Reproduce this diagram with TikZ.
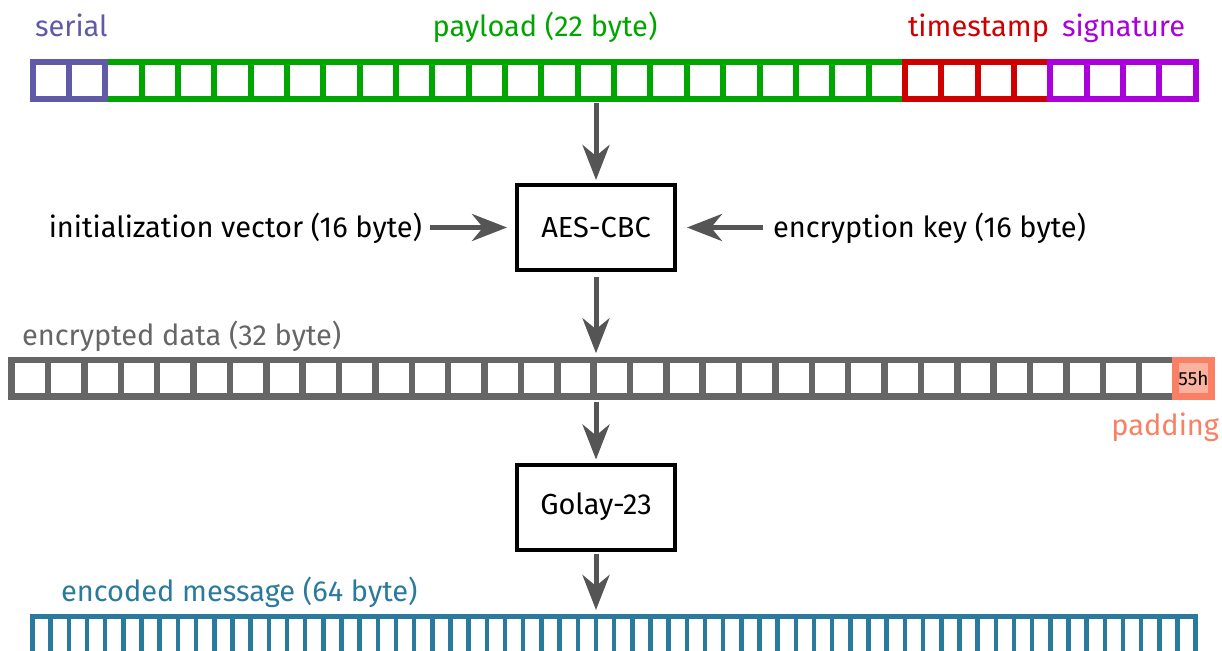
\documentclass[tikz,border=0pt]{standalone}
\usepackage{fontspec}
\setmainfont{Fira Sans}
\usetikzlibrary{arrows.meta}

\definecolor{serialc}{RGB}{96,90,168}
\definecolor{payloadc}{RGB}{0,166,0}
\definecolor{stampc}{RGB}{208,0,0}
\definecolor{signc}{RGB}{170,0,220}
\definecolor{cipherc}{RGB}{102,102,102}
\definecolor{padc}{RGB}{249,128,100}
\definecolor{padfill}{RGB}{249,178,160}
\definecolor{codedc}{RGB}{42,122,158}
\definecolor{arrowc}{RGB}{85,85,85}

% a row of byte cells: name, colour, left x, cells, centre y, pitch, line width
\newcommand{\bytebar}[7]{%
  \pgfmathsetmacro{\bbwidth}{#4*#6}%
  \pgfmathtruncatemacro{\bblast}{#4-1}%
  \node[draw=#2, line width=#7pt, minimum width=\bbwidth pt, minimum height=#6 pt,
        inner sep=0pt, outer sep=0pt, anchor=west] (#1) at (#3,#5) {};
  \foreach \k in {1,...,\bblast}{%
    \draw[#2, line width=#7pt] ({#3+\k*#6},{#5-#6/2}) -- ++(0,#6);}%
}

\tikzset{
  lbl/.style={inner sep=0pt, outer sep=0pt, font=\fontsize{29}{34}\selectfont},
  stage/.style={draw=black, line width=4pt, minimum width=158pt, minimum height=85pt,
                inner sep=0pt, outer sep=0pt, font=\fontsize{29}{34}\selectfont},
  flow/.style={draw=arrowc, line width=5pt,
               -{Stealth[length=35pt, width=27pt, inset=11pt]}},
}

\begin{document}
\begin{tikzpicture}[x=1pt, y=-1pt]
  \useasboundingbox (0,0) rectangle (1222,650);

  % plaintext frame: serial | payload | timestamp | signature
  \bytebar{payload}{payloadc}{105.2}{22}{80.5}{36.35}{6}
  \bytebar{stamp}{stampc}{904.9}{4}{80.5}{36.35}{6}
  \bytebar{sign}{signc}{1050.3}{4}{80.5}{36.35}{6}
  \bytebar{serial}{serialc}{32.5}{2}{80.5}{36.35}{6}

  \node[lbl, text=serialc, anchor=base west] (serial label) at (35,37) {serial};
  \node[lbl, text=payloadc, anchor=base] (payload label) at (545,37) {payload (22 byte)};
  \node[lbl, text=stampc, anchor=base west] (stamp label) at (908,37) {timestamp};
  \node[lbl, text=signc, anchor=base west] (sign label) at (1062,37) {signature};

  % processing stages
  \node[stage] (aes) at (596,227.5) {AES-CBC};
  \node[stage] (golay) at (596,507) {Golay-23};

  \node[lbl, anchor=base east] (iv) at (422,237) {initialization vector (16 byte)};
  \node[lbl, anchor=base west] (key) at (773,237) {encryption key (16 byte)};

  % ciphertext with trailing padding byte
  \bytebar{cipher}{cipherc}{11.7}{32}{378.4}{36.37}{6.5}
  \node[draw=padc, fill=padfill, line width=6.5pt, minimum width=36.37pt, minimum height=36.37pt,
        inner sep=0pt, outer sep=0pt, anchor=west, font=\fontsize{19}{22}\selectfont]
        (pad) at (1175.3,378.4) {55h};
  \node[lbl, text=cipherc, anchor=base west] (cipher label) at (22,345) {encrypted data (32 byte)};
  \node[lbl, text=padc, anchor=base east] (pad label) at (1219,435) {padding};

  % encoded output, 64 narrow cells running off the bottom edge
  \node[minimum width=1163.2pt, minimum height=40pt, inner sep=0pt, outer sep=0pt,
        anchor=north west] (coded) at (32.5,616.5) {};
  \draw[codedc, line width=4.5pt] (coded.south west) -- (coded.north west)
        -- (coded.north east) -- (coded.south east);
  \foreach \k in {1,...,63}{%
    \draw[codedc, line width=4.5pt] ({32.5+\k*18.175},616.5) -- ++(0,40);}
  \node[lbl, text=codedc, anchor=base west] (coded label) at (61,601) {encoded message (64 byte)};

  % data flow
  \draw[flow, shorten <=4.6pt, shorten >=5pt] (payload.south -| aes.north) -- (aes.north);
  \draw[flow, shorten <=7pt, shorten >=7pt] (aes.south) -- (aes.south |- cipher.north);
  \draw[flow, shorten <=5.3pt, shorten >=5pt] (cipher.south -| golay.north) -- (golay.north);
  \draw[flow, shorten <=4pt, shorten >=6.5pt] (golay.south) -- (golay.south |- coded.north);
  \draw[flow, shorten <=8pt, shorten >=10pt] (iv.east |- aes.west) -- (aes.west);
  \draw[flow, shorten <=10pt, shorten >=12pt] (key.west |- aes.east) -- (aes.east);
\end{tikzpicture}
\end{document}
